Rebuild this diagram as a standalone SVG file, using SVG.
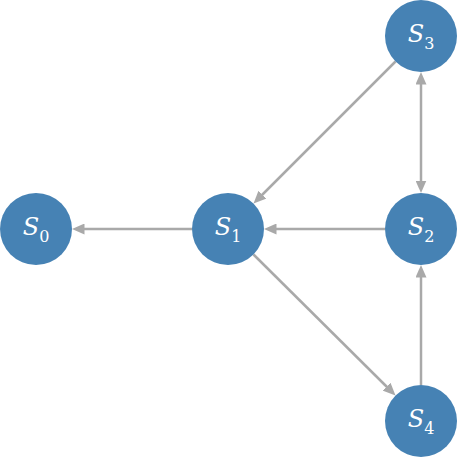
<svg xmlns="http://www.w3.org/2000/svg" width="457" height="457" viewBox="0 0 457 457">
<style>
.node circle{fill:#4682b4;}
.node text{fill:#fff;font-family:'DejaVu Serif',serif;font-size:24px;text-anchor:middle;}
.node .v{font-style:italic;}
.node .sub{font-size:16px;}
.edges line{stroke:#a9a9a9;stroke-width:2.5;fill:none;marker-end:url(#ah);}
</style>
<defs>
<marker id="ah" markerUnits="userSpaceOnUse" markerWidth="13" markerHeight="11" refX="0.5" refY="5.5" orient="auto-start-reverse" viewBox="0 0 13 11">
<path d="M0,0 L12.5,5.5 L0,11 z" fill="#a9a9a9"/>
</marker>
</defs>
<rect width="457" height="457" fill="#fff"/>
<g class="edges">
<line x1="192.5" y1="229" x2="84" y2="229"/>
<line x1="385" y1="229" x2="276" y2="229"/>
<line x1="395.5" y1="61.5" x2="262" y2="195"/>
<line x1="253.5" y1="254.5" x2="387" y2="387"/>
<line x1="421" y1="385" x2="421" y2="277"/>
<line x1="421" y1="84" x2="421" y2="181" style="marker-start:url(#ah)"/>
</g>
<g id="S0" class="node"><circle cx="36" cy="229" r="36"/><text x="36" y="235"><tspan class="v">S</tspan><tspan class="sub" dy="7">0</tspan></text></g>
<g id="S1" class="node"><circle cx="228" cy="229" r="36"/><text x="228" y="235"><tspan class="v">S</tspan><tspan class="sub" dy="7">1</tspan></text></g>
<g id="S2" class="node"><circle cx="421" cy="229" r="36"/><text x="421" y="235"><tspan class="v">S</tspan><tspan class="sub" dy="7">2</tspan></text></g>
<g id="S3" class="node"><circle cx="421" cy="36" r="36"/><text x="421" y="42"><tspan class="v">S</tspan><tspan class="sub" dy="7">3</tspan></text></g>
<g id="S4" class="node"><circle cx="421" cy="421" r="36"/><text x="421" y="427"><tspan class="v">S</tspan><tspan class="sub" dy="7">4</tspan></text></g>
</svg>
